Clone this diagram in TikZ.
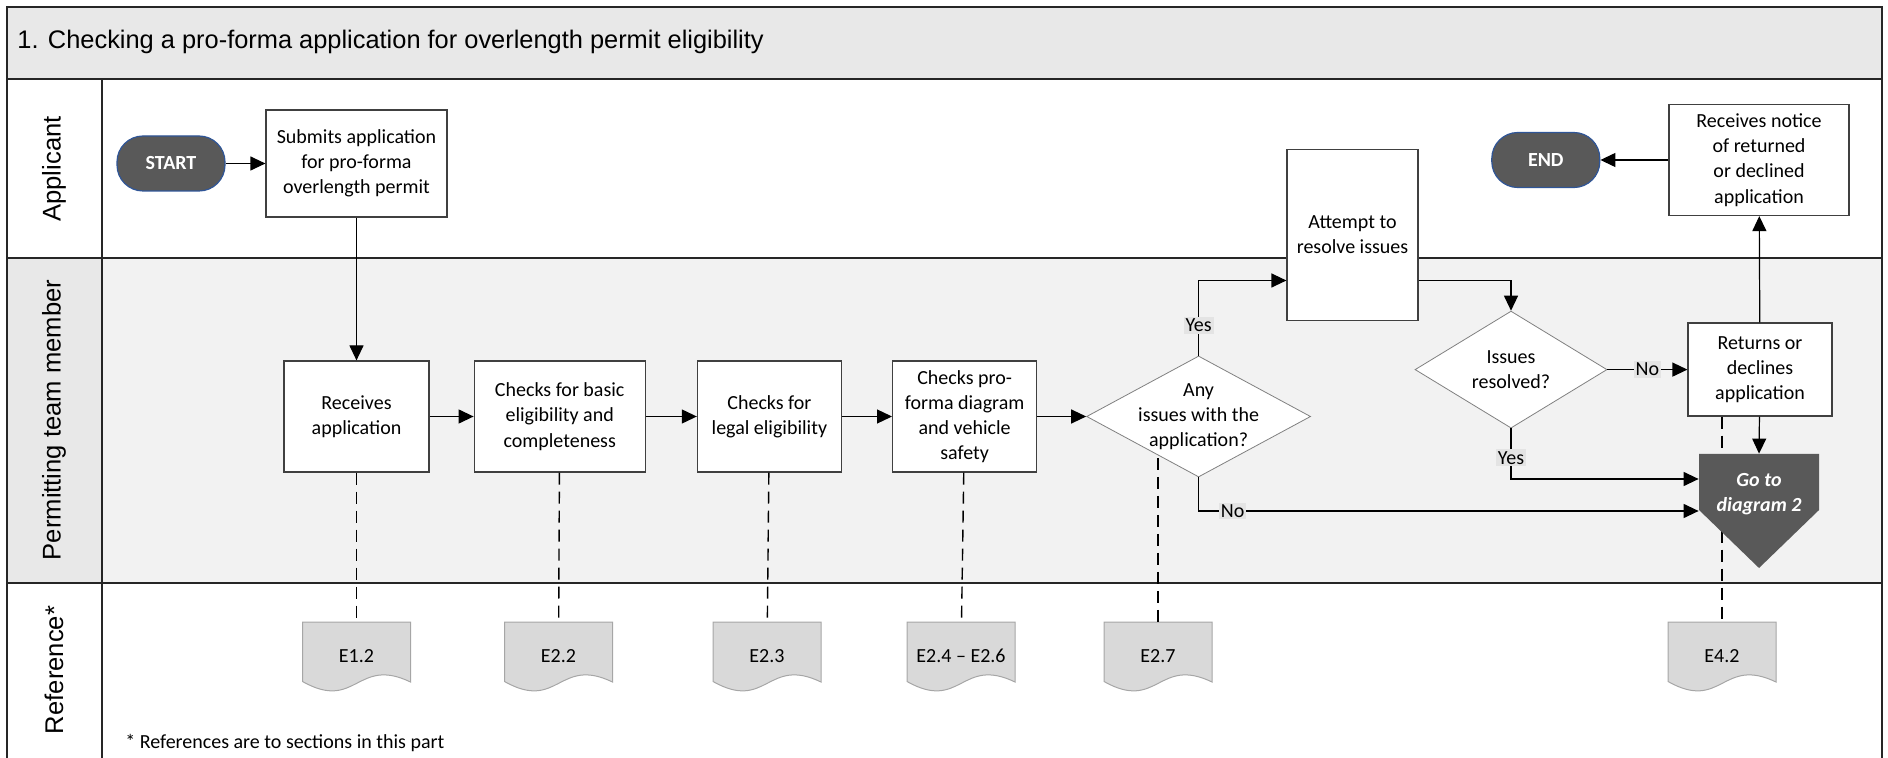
\documentclass[tikz,border=0pt]{standalone}
\usepackage{fontspec}
\setmainfont{Carlito}
\newfontfamily\lanefont{Liberation Sans}
\usepackage{tikz}
\usetikzlibrary{arrows.meta,positioning,shapes.geometric,calc}

\definecolor{titlegray}{HTML}{E8E8E8}
\definecolor{lanegray}{HTML}{F2F2F2}
\definecolor{termgray}{HTML}{595959}
\definecolor{termblue}{HTML}{2F5597}
\definecolor{docgray}{HTML}{D9D9D9}
\definecolor{docline}{HTML}{A6A6A6}
\definecolor{tagbg}{HTML}{E4E4E4}

\begin{document}
\begin{tikzpicture}[
  x=0.5pt, y=-0.5pt,
  font=\fontsize{10}{12.6}\selectfont,
  frame/.style={draw=black!85, line width=1pt},
  lanelbl/.style={rotate=90, inner sep=0pt, font=\lanefont\fontsize{12.8}{15}\selectfont},
  box/.style={draw=black!75, fill=white, line width=0.6pt, align=center,
              inner sep=2pt, minimum height=55.5pt},
  decision/.style={diamond, draw=black!50, fill=white, line width=0.4pt,
                   inner sep=0pt, minimum width=112pt, minimum height=60.5pt},
  dtext/.style={align=center, inner sep=0pt},
  terminal/.style={draw=termblue, fill=termgray, line width=0.6pt, rounded corners=13pt,
                   minimum width=54pt, minimum height=27.5pt, text=white,
                   font=\fontsize{10}{12}\selectfont\bfseries},
  gototext/.style={text=white, align=center, inner sep=0pt, minimum width=60pt,
                   minimum height=40pt, font=\fontsize{10}{12.2}\selectfont\bfseries\itshape},
  reftext/.style={inner sep=0pt, minimum width=54pt, minimum height=34pt},
  arr/.style={-{Triangle[length=7.5pt, width=7pt]}, line width=0.6pt},
  refline/.style={line width=0.7pt, dash pattern=on 6pt off 3.5pt},
  tag/.style={fill=tagbg, inner sep=1pt}
]
\useasboundingbox (0,0) rectangle (1888,758);

\fill[titlegray] (7,7) rectangle (1882,79.5);
\fill[lanegray] (102,258) rectangle (1882,583);
\fill[titlegray] (7,258) rectangle (102,583);
\draw[frame] (7,758) -- (7,7) -- (1882,7) -- (1882,758);
\draw[frame] (7,79.5) -- (1882,79.5);
\draw[frame] (7,258) -- (1882,258);
\draw[frame] (7,583) -- (1882,583);
\draw[frame] (102,79.5) -- (102,758);

\node[anchor=west, inner sep=0pt, font=\lanefont\fontsize{12.7}{15}\selectfont] (title) at (17,42)
  {1. Checking a pro-forma application for overlength permit eligibility};
\node[lanelbl] (lapp) at (54,169) {Applicant};
\node[lanelbl] (lteam) at (54,420) {Permitting team member};
\node[lanelbl] (lref) at (54,670) {Reference*};

\node[terminal] (start) at (171,163.5) {START};
\node[box, minimum width=90.5pt, minimum height=53.5pt] (submit) at (356.5,163.5)
  {Submits application\\for pro-forma\\overlength permit};
\node[box, minimum width=72.5pt] (receive) at (356.5,416.5) {Receives\\application};
\node[box, minimum width=85.5pt, right=22pt of receive] (basic)
  {Checks for basic\\eligibility and\\completeness};
\node[box, minimum width=72pt, right=25.5pt of basic] (legal) {Checks for\\legal eligibility};
\node[box, minimum width=72pt, right=25pt of legal] (proforma)
  {Checks pro-\\forma diagram\\and vehicle\\safety};
\node[decision, right=24.5pt of proforma] (anyq) {};
\node[dtext] (anyqtext) at (anyq) {Any\\issues with the\\application?};
\node[box, minimum width=65.5pt, minimum height=85.5pt] (attempt) at (1352.5,234.7)
  {Attempt to\\resolve issues};
\node[decision, minimum width=96pt, minimum height=58.5pt] (issuesq) at (1511,369.6) {};
\node[dtext] (issuestext) at (issuesq) {Issues\\resolved?};
\node[box, minimum width=72pt, minimum height=46.5pt, right=40pt of issuesq] (rets)
  {Returns or\\declines\\application};
\node[box, minimum width=90pt, minimum height=55.5pt] (notice) at (1759,160)
  {Receives notice\\of returned\\or declined\\application};
\node[terminal, left=34pt of notice] (end) {END};

\foreach \nm/\xx/\txt in {e12/356.5/E1.2, e22/558.5/E2.2, e23/767/E2.3,
                          e24/961/E2.4 -- E2.6, e27/1158/E2.7, e42/1722/E4.2}{
  \begin{scope}[shift={(\xx,622)}]
    \filldraw[fill=docgray, draw=docline, line width=0.5pt]
      (-27pt,0pt) -- (27pt,0pt) -- (27pt,-30pt)
      .. controls (0pt,-17pt) and (0pt,-45pt) .. (-27pt,-29.75pt) -- cycle;
  \end{scope}
  \node[reftext] (\nm) at (\xx,656) {\txt};
}

\draw[refline] (receive) -- (e12);
\draw[refline] (basic) -- (e22);
\draw[refline] (legal) -- (e23);
\draw[refline] (proforma) -- (e24);
\draw[refline] (e27.north |- {$(anyq.west)!0.679!(anyq.south)$}) -- (e27.north);
\draw[refline] (e42.north |- rets.south) -- (e42.north);

\fill[termgray] (1699,454) -- (1819,454) -- (1819,510) -- (1759,568) -- (1699,510) -- cycle;
\node[gototext] (goto) at (1759,494) {Go to\\diagram 2};

\draw[arr] (start) -- (submit);
\draw[arr] (submit) -- (receive);
\draw[arr] (receive) -- (basic);
\draw[arr] (basic) -- (legal);
\draw[arr] (legal) -- (proforma);
\draw[arr] (proforma) -- (anyq);
\draw[arr] (anyq.north) |- node[tag, pos=0.2]{Yes} ([yshift=-22.9pt]attempt.west);
\draw[arr] ([yshift=-22.9pt]attempt.east) -| (issuesq.north);
\draw[arr] (issuesq) -- node[tag]{No} (rets);
\draw[arr] (rets) -- (notice);
\draw[arr] (notice) -- (end);
\draw[arr] (rets) -- (goto.north);
\draw[arr] (issuesq.south) |- node[tag, pos=0.29]{Yes} ([yshift=7.5pt]goto.west);
\draw[arr] (anyq.south) |- node[tag, pos=0.534]{No} ([yshift=-8.5pt]goto.west);

\node[anchor=west, inner sep=0pt] (fnote) at (125,743) {* References are to sections in this part};
\end{tikzpicture}
\end{document}
